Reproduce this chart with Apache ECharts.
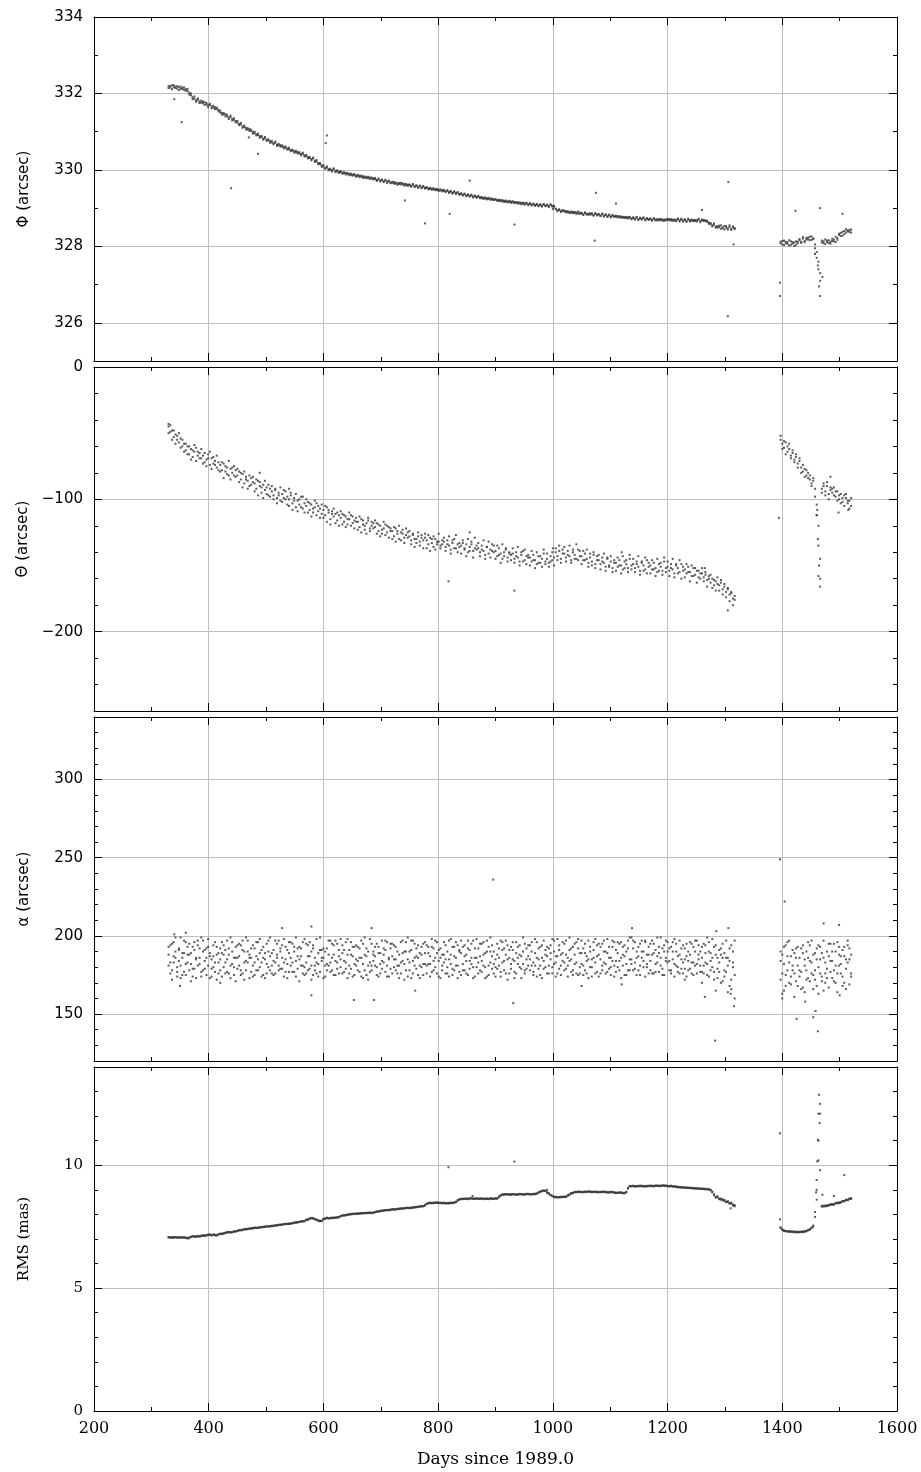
<!DOCTYPE html>
<html><head><meta charset="utf-8">
<script src="https://cdn.jsdelivr.net/npm/echarts@6/dist/echarts.min.js"></script>
<style>html,body{margin:0;padding:0;background:#fff}#c{width:921px;height:1472px}</style>
</head><body><div id="c"></div>
<script>
// Observation days (days since 1989.0)
const days = [
330,333,336,339,342,345,348,351,354,357,
360,363,366,369,372,375,378,381,384,387,
390,393,396,399,402,405,408,411,414,417,
420,423,426,429,432,435,438,441,444,447,
450,453,456,459,462,465,468,471,474,477,
480,483,486,489,492,495,498,501,504,507,
510,513,516,519,522,525,528,531,534,537,
540,543,546,549,552,555,558,561,564,567,
570,573,576,579,582,585,588,591,594,597,
600,603,606,609,612,615,618,621,624,627,
630,633,636,639,642,645,648,651,654,657,
660,663,666,669,672,675,678,681,684,687,
690,693,696,699,702,705,708,711,714,717,
720,723,726,729,732,735,738,741,744,747,
750,753,756,759,762,765,768,771,774,777,
780,783,786,789,792,795,798,801,804,807,
810,813,816,819,822,825,828,831,834,837,
840,843,846,849,852,855,858,861,864,867,
870,873,876,879,882,885,888,891,894,897,
900,903,906,909,912,915,918,921,924,927,
930,933,936,939,942,945,948,951,954,957,
960,963,966,969,972,975,978,981,984,987,
990,993,996,999,1002,1005,1008,1011,1014,1017,
1020,1023,1026,1029,1032,1035,1038,1041,1044,1047,
1050,1053,1056,1059,1062,1065,1068,1071,1074,1077,
1080,1083,1086,1089,1092,1095,1098,1101,1104,1107,
1110,1113,1116,1119,1122,1125,1128,1131,1134,1137,
1140,1143,1146,1149,1152,1155,1158,1161,1164,1167,
1170,1173,1176,1179,1182,1185,1188,1191,1194,1197,
1200,1203,1206,1209,1212,1215,1218,1221,1224,1227,
1230,1233,1236,1239,1242,1245,1248,1251,1254,1257,
1260,1263,1266,1269,1272,1275,1278,1281,1284,1287,
1290,1293,1296,1299,1302,1305,1308,1311,1314,1317,
1397,1400,1403,1406,1409,1412,1415,1418,1421,1424,
1427,1430,1433,1436,1439,1442,1445,1448,1451,1454,
1457,1460,1463,1466,1469,1472,1475,1478,1481,1484,
1487,1490,1493,1496,1499,1502,1505,1508,1511,1514,
1517,1520];

// Phi (arcsec), two measurements per day
const phi = [
332.19,332.15,332.21,332.16,332.18,332.13,332.17,332.12,332.15,332.10,
332.11,332.06,332.02,331.95,331.90,331.86,331.82,331.83,331.79,331.76,
331.74,331.77,331.71,331.69,331.70,331.66,331.63,331.64,331.59,331.57,
331.50,331.49,331.44,331.46,331.40,331.37,331.38,331.33,331.31,331.28,
331.24,331.20,331.19,331.14,331.12,331.10,331.05,331.07,331.02,330.99,
330.96,330.93,330.91,330.88,330.86,330.82,330.83,330.79,330.77,330.75,
330.72,330.70,330.71,330.66,330.64,330.65,330.61,330.60,330.58,330.56,
330.54,330.52,330.50,330.49,330.46,330.47,330.43,330.41,330.42,330.38,
330.36,330.33,330.31,330.28,330.30,330.24,330.22,330.18,330.15,330.12,
330.09,330.05,330.06,330.02,330.00,329.99,330.01,329.97,329.96,329.95,
329.94,329.93,329.91,329.92,329.89,329.90,329.87,329.88,329.86,329.85,
329.84,329.85,329.82,329.83,329.80,329.81,329.79,329.80,329.77,329.78,
329.76,329.74,329.75,329.72,329.73,329.70,329.72,329.69,329.70,329.67,
329.66,329.68,329.64,329.65,329.63,329.66,329.62,329.63,329.60,329.61,
329.60,329.58,329.61,329.57,329.58,329.55,329.57,329.54,329.56,329.53,
329.53,329.52,329.50,329.51,329.49,329.50,329.47,329.48,329.46,329.47,
329.45,329.44,329.45,329.42,329.43,329.40,329.42,329.39,329.40,329.37,
329.37,329.35,329.36,329.33,329.34,329.32,329.33,329.30,329.31,329.29,
329.30,329.28,329.26,329.27,329.25,329.26,329.24,329.25,329.22,329.23,
329.22,329.21,329.19,329.21,329.18,329.19,329.17,329.18,329.16,329.17,
329.15,329.16,329.14,329.15,329.12,329.14,329.11,329.13,329.12,329.10,
329.11,329.09,329.10,329.08,329.09,329.07,329.08,329.06,329.09,329.07,
329.07,329.05,329.08,329.06,329.04,328.97,328.94,328.95,328.92,328.93,
328.91,328.92,328.89,328.90,328.88,328.90,328.87,328.89,328.86,328.88,
328.86,328.84,328.87,328.85,328.83,328.86,328.84,328.82,328.85,328.83,
328.83,328.81,328.84,328.80,328.82,328.79,328.81,328.78,328.80,328.79,
328.78,328.79,328.76,328.78,328.75,328.77,328.74,328.76,328.75,328.73,
328.74,328.72,328.75,328.71,328.73,328.72,328.74,328.70,328.72,328.71,
328.71,328.69,328.72,328.70,328.68,328.71,328.69,328.70,328.67,328.70,
328.69,328.71,328.68,328.70,328.67,328.69,328.71,328.68,328.70,328.67,
328.69,328.66,328.70,328.68,328.67,328.69,328.66,328.68,328.70,328.66,
328.68,328.69,328.66,328.67,328.62,328.58,328.55,328.60,328.52,328.49,
328.50,328.55,328.47,328.53,328.49,328.44,328.51,328.46,328.52,328.48,
328.12,328.05,328.15,328.08,328.11,328.02,328.13,328.07,328.10,328.04,
328.12,328.16,328.09,328.20,328.14,328.22,328.18,328.25,328.17,328.21,
328.05,327.85,327.60,327.30,328.10,328.13,328.06,328.15,328.09,328.12,
328.14,328.18,328.11,328.22,328.30,328.35,328.28,328.40,328.36,328.42,
328.38,328.44];
const phi2 = [
332.14,332.20,332.11,332.22,332.14,332.19,332.09,332.18,332.11,332.16,
332.07,332.12,331.97,332.00,331.85,331.92,331.78,331.87,331.75,331.81,
331.79,331.70,331.75,331.64,331.73,331.61,331.68,331.59,331.63,331.53,
331.55,331.45,331.49,331.40,331.44,331.33,331.42,331.29,331.35,331.24,
331.28,331.17,331.23,331.10,331.16,331.06,331.09,331.02,331.05,330.95,
331.00,330.90,330.95,330.84,330.89,330.79,330.86,330.76,330.80,330.71,
330.76,330.67,330.74,330.63,330.68,330.61,330.64,330.56,330.61,330.53,
330.58,330.49,330.53,330.45,330.50,330.43,330.46,330.38,330.45,330.35,
330.39,330.30,330.34,330.25,330.32,330.21,330.26,330.15,330.18,330.08,
330.12,330.03,330.09,329.99,330.03,329.96,330.04,329.94,329.99,329.92,
329.97,329.90,329.94,329.88,329.92,329.86,329.90,329.85,329.89,329.82,
329.87,329.81,329.85,329.79,329.83,329.78,329.82,329.76,329.80,329.75,
329.79,329.71,329.77,329.70,329.75,329.68,329.74,329.66,329.72,329.65,
329.69,329.64,329.67,329.61,329.66,329.62,329.65,329.59,329.63,329.58,
329.62,329.56,329.63,329.55,329.60,329.53,329.59,329.52,329.58,329.51,
329.55,329.49,329.53,329.48,329.52,329.47,329.50,329.45,329.49,329.44,
329.48,329.42,329.47,329.40,329.45,329.38,329.44,329.37,329.42,329.35,
329.39,329.33,329.38,329.31,329.36,329.30,329.35,329.28,329.33,329.27,
329.32,329.26,329.29,329.24,329.28,329.23,329.27,329.22,329.25,329.21,
329.24,329.19,329.22,329.18,329.21,329.16,329.20,329.15,329.19,329.14,
329.18,329.13,329.16,329.12,329.15,329.10,329.14,329.09,329.14,329.08,
329.13,329.07,329.12,329.06,329.11,329.05,329.10,329.04,329.11,329.05,
329.09,329.03,329.10,329.04,329.06,328.99,328.92,328.97,328.90,328.95,
328.93,328.89,328.92,328.87,328.91,328.87,328.90,328.85,328.91,328.85,
328.88,328.82,328.89,328.83,328.86,328.83,328.87,328.80,328.87,328.81,
328.85,328.79,328.86,328.78,328.84,328.77,328.83,328.76,328.82,328.77,
328.80,328.76,328.79,328.75,328.77,328.74,328.77,328.73,328.77,328.71,
328.76,328.70,328.77,328.69,328.75,328.70,328.76,328.68,328.74,328.69,
328.73,328.67,328.74,328.68,328.71,328.68,328.72,328.67,328.70,328.68,
328.72,328.68,328.71,328.67,328.70,328.66,328.73,328.65,328.72,328.65,
328.71,328.64,328.72,328.65,328.70,328.66,328.69,328.65,328.72,328.63,
328.70,328.66,328.68,328.64,328.59,328.61,328.52,328.57,328.49,328.53,
328.54,328.46,328.50,328.44,328.53,328.47,328.55,328.43,328.50,328.45,
328.08,328.14,328.03,328.12,328.06,328.16,328.04,328.11,328.01,328.13,
328.08,328.19,328.12,328.24,328.11,328.18,328.23,328.16,328.26,328.19,
327.95,327.70,327.40,327.10,328.15,328.08,328.18,328.11,328.16,328.07,
328.20,328.13,328.25,328.17,328.33,328.27,328.38,328.32,328.45,328.39,
328.43,328.36];

// Theta (arcsec), two measurements per day
const theta = [
-45,-49,-48,-53,-51,-55,-57,-54,-60,-58,
-63,-60,-66,-62,-68,-64,-61,-67,-65,-69,
-67,-72,-70,-66,-74,-69,-73,-71,-76,-72,
-74,-78,-73,-79,-76,-82,-77,-80,-75,-83,
-82,-79,-85,-81,-88,-83,-86,-90,-84,-87,
-88,-92,-86,-90,-95,-89,-93,-91,-97,-92,
-94,-97,-92,-99,-95,-101,-96,-93,-100,-98,
-100,-97,-103,-99,-106,-101,-104,-98,-107,-103,
-105,-102,-108,-104,-110,-106,-103,-109,-107,-111,
-108,-112,-106,-110,-115,-109,-113,-111,-116,-112,
-114,-111,-117,-113,-119,-115,-112,-118,-116,-114,
-117,-121,-115,-119,-123,-118,-116,-122,-120,-118,
-121,-118,-124,-120,-126,-122,-119,-125,-121,-124,
-124,-128,-122,-126,-130,-125,-123,-129,-127,-125,
-128,-131,-126,-130,-133,-128,-132,-127,-131,-129,
-131,-134,-129,-133,-136,-130,-134,-132,-135,-131,
-132,-136,-131,-135,-138,-133,-130,-137,-134,-136,
-135,-133,-138,-134,-140,-136,-132,-139,-137,-135,
-137,-140,-135,-139,-142,-136,-141,-138,-134,-140,
-139,-143,-137,-141,-145,-140,-138,-144,-141,-142,
-141,-145,-140,-144,-147,-142,-139,-146,-143,-144,
-144,-147,-142,-146,-149,-143,-148,-145,-141,-147,
-145,-148,-143,-146,-144,-140,-143,-139,-145,-141,
-141,-144,-139,-143,-146,-140,-142,-145,-138,-143,
-143,-146,-141,-145,-148,-144,-147,-142,-149,-146,
-146,-149,-144,-148,-151,-145,-150,-147,-152,-148,
-148,-151,-146,-150,-153,-147,-149,-152,-145,-150,
-149,-152,-147,-151,-154,-148,-150,-153,-146,-151,
-150,-153,-148,-152,-155,-149,-151,-154,-147,-152,
-151,-154,-149,-153,-156,-150,-152,-155,-149,-154,
-153,-156,-151,-155,-158,-152,-157,-154,-159,-156,
-156,-159,-157,-161,-158,-163,-160,-165,-162,-164,
-165,-163,-168,-166,-170,-168,-172,-171,-175,-173,
-55,-58,-61,-57,-64,-62,-67,-65,-70,-68,
-73,-71,-76,-79,-77,-82,-80,-85,-88,-86,
-92,-104,-120,-145,-92,-88,-94,-90,-96,-93,
-95,-91,-98,-94,-100,-96,-102,-97,-99,-103,
-101,-105];
const theta2 = [
-50,-44,-55,-48,-58,-52,-50,-61,-55,-64,
-58,-66,-60,-70,-63,-59,-71,-64,-69,-62,
-73,-65,-75,-69,-64,-77,-68,-74,-67,-78,
-79,-72,-84,-75,-81,-71,-85,-76,-82,-78,
-77,-87,-80,-91,-79,-85,-92,-82,-89,-83,
-94,-85,-97,-87,-91,-99,-86,-96,-89,-98,
-90,-100,-93,-103,-97,-91,-102,-99,-94,-104,
-105,-95,-108,-101,-96,-109,-100,-106,-98,-110,
-100,-110,-103,-113,-107,-101,-112,-105,-114,-104,
-114,-105,-117,-108,-119,-111,-107,-118,-110,-120,
-109,-119,-112,-121,-115,-110,-120,-113,-122,-117,
-123,-113,-125,-116,-120,-126,-114,-124,-117,-122,
-116,-126,-119,-128,-123,-117,-127,-120,-129,-122,
-130,-121,-132,-124,-120,-131,-126,-133,-122,-129,
-124,-134,-127,-136,-130,-125,-135,-129,-137,-126,
-137,-127,-139,-130,-128,-138,-132,-126,-137,-134,
-129,-139,-134,-128,-141,-131,-137,-127,-140,-133,
-141,-131,-137,-143,-130,-139,-134,-144,-129,-138,
-133,-143,-138,-131,-145,-136,-132,-144,-139,-135,
-145,-135,-142,-148,-134,-143,-137,-147,-140,-146,
-137,-148,-143,-136,-150,-140,-147,-138,-149,-142,
-150,-139,-146,-152,-140,-148,-143,-151,-138,-149,
-141,-151,-147,-140,-150,-137,-146,-135,-148,-138,
-136,-147,-142,-135,-148,-138,-145,-134,-146,-139,
-149,-139,-146,-138,-151,-141,-150,-140,-152,-143,
-142,-153,-147,-141,-154,-144,-151,-143,-155,-146,
-154,-144,-150,-156,-143,-152,-146,-155,-142,-153,
-145,-155,-149,-143,-157,-147,-154,-144,-156,-148,
-156,-146,-153,-158,-145,-154,-148,-157,-144,-155,
-147,-158,-152,-145,-159,-149,-156,-146,-160,-151,
-159,-149,-155,-162,-150,-158,-152,-163,-154,-160,
-152,-162,-155,-166,-160,-157,-167,-161,-169,-159,
-169,-161,-172,-164,-174,-167,-177,-170,-180,-176,
-52,-62,-56,-66,-60,-58,-69,-63,-72,-66,
-76,-69,-80,-74,-83,-78,-84,-82,-90,-84,
-98,-112,-135,-160,-95,-90,-97,-87,-100,-91,
-92,-97,-94,-101,-97,-103,-99,-105,-96,-101,
-107,-99];

// alpha (arcsec), three measurements per day
const alpha = [
188,176,195,183,199,180,191,173,186,197,
182,193,178,189,174,196,185,181,192,177,
190,184,175,198,187,179,194,183,172,189,
185,196,180,191,177,188,199,182,175,193,
179,187,194,176,190,184,197,173,186,181,
192,178,185,198,183,175,189,195,180,187,
176,191,183,188,197,179,186,174,193,182,
189,181,195,177,184,192,171,187,196,180,
183,194,179,190,175,186,198,182,177,191,
186,174,192,181,197,178,188,184,195,176,
180,189,184,196,173,191,179,187,182,194,
193,177,186,182,199,175,190,183,178,188,
181,195,174,189,184,192,177,196,185,179,
187,180,193,176,188,183,197,172,190,185,
178,191,184,195,179,186,181,193,175,189,
194,182,187,177,192,180,196,184,173,188,
183,176,190,185,198,179,187,181,194,177,
189,193,178,184,175,191,182,197,186,180,
176,187,195,181,189,174,193,183,179,190,
185,179,192,177,196,184,188,172,191,182,
191,184,176,193,180,187,199,178,185,194,
178,196,183,189,174,192,181,186,197,180,
187,181,194,176,190,183,198,179,188,184,
195,179,186,191,177,193,182,196,175,189,
182,192,178,187,197,180,185,191,176,194,
188,176,195,183,190,198,179,186,193,181,
177,189,184,196,181,187,175,192,185,199,
192,183,190,178,195,186,180,197,182,188,
184,197,176,191,183,189,199,179,194,186,
190,178,193,185,198,181,187,176,192,183,
179,195,184,188,176,193,181,197,185,190,
186,181,194,175,190,184,198,172,188,179,
183,192,171,189,177,186,168,194,180,175,
172,188,165,194,178,183,169,191,176,186,
181,174,192,167,185,178,196,171,183,175,
189,168,180,193,174,186,170,179,195,177,
184,171,190,176,193,182,168,187,179,194,
185,176];
const alpha2 = [
181,194,172,187,190,177,184,199,175,189,
196,183,188,171,193,179,186,197,182,174,
178,191,186,193,173,185,180,196,188,176,
192,174,188,183,197,176,181,190,186,171,
186,195,178,191,172,199,183,188,177,194,
175,187,196,180,191,186,173,182,197,178,
189,184,176,195,181,192,179,198,185,173,
177,196,183,190,174,187,193,181,176,198,
195,178,187,172,192,181,176,189,199,184,
173,190,182,197,177,186,194,175,183,191,
198,176,191,179,188,181,196,174,193,185,
184,192,174,195,178,187,172,198,181,190,
193,180,189,176,197,183,191,174,186,195,
176,194,185,181,173,196,184,190,178,199,
190,173,197,186,192,175,189,180,195,182,
181,189,174,193,184,197,176,191,186,178,
196,185,180,174,188,193,178,196,181,190,
175,182,194,188,197,179,186,173,192,198,
192,178,184,196,173,190,181,199,187,176,
180,195,186,174,191,178,197,185,176,193,
185,177,196,182,188,173,190,195,179,187,
194,181,175,198,186,179,193,173,184,191,
176,192,185,180,197,174,187,194,181,196,
183,188,174,199,185,178,195,176,192,180,
197,175,189,184,173,193,180,186,198,177,
174,193,181,197,176,189,186,175,184,196,
191,180,195,173,188,194,182,178,199,185,
178,196,175,187,181,197,190,174,188,193,
195,176,189,182,199,177,186,192,175,184,
183,192,178,196,174,190,180,197,185,176,
192,174,190,179,195,183,197,176,188,181,
177,195,183,199,174,189,180,193,165,186,
191,170,186,178,197,164,184,172,190,160,
190,163,182,175,196,170,187,178,161,192,
168,186,177,194,164,190,173,184,197,166,
178,192,163,185,171,197,176,190,167,184,
173,195,181,164,188,176,191,170,185,197,
169,188];
const alpha3 = [
193,183,178,196,186,174,192,181,189,177,
175,188,195,182,179,191,173,194,186,199,
197,179,192,181,189,174,187,177,193,183,
178,189,194,176,185,192,173,196,180,186,
194,181,175,197,183,178,190,186,192,174,
183,196,178,189,174,193,185,176,190,199,
181,175,197,186,178,190,194,183,177,191,
196,186,177,193,199,179,185,192,181,175,
176,187,196,181,194,178,183,174,191,186,
192,181,178,188,183,195,175,197,179,187,
185,194,177,183,198,176,188,193,175,181,
178,186,197,173,188,192,181,177,195,184,
187,175,193,182,179,188,197,181,174,192,
195,185,178,190,181,176,189,182,196,174,
183,197,176,181,187,194,173,188,182,196,
176,193,182,198,178,186,189,174,192,181,
188,194,176,197,182,175,193,186,173,191,
197,178,187,176,192,184,195,180,174,186,
183,195,177,188,180,197,175,190,194,182,
174,188,181,197,183,192,176,194,186,179,
196,173,189,186,194,179,182,176,192,181,
185,190,177,181,196,185,175,194,179,188,
193,176,189,198,182,187,176,191,175,189,
178,197,181,184,192,175,188,183,198,176,
189,181,195,176,185,190,174,196,183,187,
195,185,178,190,182,177,193,180,197,174,
184,196,178,186,193,175,190,197,178,182,
197,179,186,193,175,190,184,196,180,176,
178,188,195,177,187,193,181,175,190,197,
196,184,176,190,182,195,177,188,179,194,
185,187,178,196,183,175,190,182,194,177,
193,176,189,182,196,178,186,177,194,173,
177,188,195,174,186,181,192,166,183,197,
184,176,193,168,187,197,174,181,189,171,
193,178,166,189,181,172,186,194,176,188,
172,185,194,176,189,165,183,173,187,195,
190,178,170,196,181,187,174,193,166,183,
192,174];

// RMS (mas), two measurements per day
const rms = [
7.06,7.07,7.06,7.08,7.07,7.06,7.07,7.05,7.07,7.06,
7.04,7.02,7.06,7.09,7.10,7.09,7.11,7.10,7.12,7.11,
7.13,7.15,7.14,7.18,7.17,7.16,7.19,7.15,7.14,7.18,
7.20,7.22,7.21,7.26,7.28,7.27,7.26,7.29,7.31,7.30,
7.34,7.36,7.35,7.38,7.40,7.39,7.41,7.43,7.42,7.44,
7.45,7.44,7.47,7.46,7.49,7.48,7.50,7.51,7.50,7.53,
7.52,7.55,7.54,7.56,7.58,7.57,7.59,7.61,7.60,7.62,
7.63,7.62,7.65,7.66,7.68,7.67,7.70,7.72,7.71,7.74,
7.77,7.80,7.84,7.86,7.83,7.80,7.77,7.74,7.72,7.75,
7.80,7.84,7.85,7.83,7.86,7.87,7.85,7.88,7.87,7.90,
7.94,7.96,7.95,7.98,8.00,7.99,8.02,8.01,8.03,8.02,
8.04,8.03,8.05,8.04,8.06,8.05,8.07,8.06,8.05,8.08,
8.10,8.12,8.11,8.15,8.14,8.17,8.16,8.18,8.19,8.17,
8.20,8.19,8.22,8.21,8.24,8.23,8.25,8.24,8.27,8.26,
8.25,8.28,8.27,8.30,8.29,8.31,8.33,8.32,8.34,8.36,
8.42,8.46,8.47,8.45,8.48,8.47,8.49,8.46,8.48,8.45,
8.46,8.44,8.47,8.45,8.46,8.48,8.47,8.52,8.56,8.60,
8.62,8.64,8.63,8.65,8.62,8.64,8.66,8.63,8.65,8.64,
8.63,8.65,8.64,8.62,8.65,8.63,8.64,8.66,8.63,8.65,
8.64,8.66,8.70,8.76,8.80,8.82,8.81,8.83,8.80,8.82,
8.81,8.83,8.80,8.82,8.84,8.81,8.83,8.80,8.82,8.84,
8.81,8.83,8.82,8.84,8.86,8.88,8.92,8.96,8.98,8.95,
8.90,8.86,8.80,8.74,8.72,8.70,8.71,8.69,8.72,8.70,
8.71,8.73,8.76,8.80,8.85,8.88,8.90,8.92,8.91,8.93,
8.92,8.90,8.93,8.91,8.94,8.92,8.90,8.93,8.91,8.92,
8.90,8.92,8.91,8.93,8.90,8.89,8.91,8.92,8.90,8.88,
8.89,8.87,8.90,8.88,8.86,8.88,8.90,9.05,9.14,9.16,
9.15,9.13,9.16,9.14,9.17,9.15,9.13,9.16,9.14,9.17,
9.15,9.17,9.14,9.16,9.18,9.15,9.17,9.19,9.16,9.18,
9.16,9.14,9.17,9.13,9.15,9.12,9.10,9.12,9.09,9.11,
9.08,9.10,9.07,9.09,9.06,9.08,9.05,9.07,9.04,9.06,
9.03,9.05,9.02,9.04,9.01,8.98,8.90,8.78,8.72,8.70,
8.65,8.60,8.62,8.55,8.52,8.50,8.46,8.44,8.40,8.33,
7.48,7.40,7.35,7.33,7.30,7.32,7.29,7.31,7.28,7.30,
7.27,7.30,7.28,7.31,7.29,7.33,7.35,7.40,7.44,7.50,
7.90,8.60,10.20,12.10,8.35,8.32,8.36,8.34,8.38,8.40,
8.39,8.42,8.45,8.48,8.46,8.50,8.53,8.55,8.58,8.60,
8.62,8.66];
const rms2 = [
7.08,7.05,7.07,7.04,7.08,7.06,7.05,7.08,7.05,7.07,
7.06,7.05,7.03,7.08,7.12,7.11,7.09,7.13,7.10,7.14,
7.15,7.12,7.16,7.16,7.19,7.14,7.17,7.17,7.16,7.20,
7.22,7.20,7.24,7.24,7.26,7.29,7.28,7.27,7.30,7.32,
7.32,7.35,7.37,7.36,7.39,7.41,7.40,7.42,7.44,7.43,
7.47,7.46,7.45,7.48,7.47,7.50,7.49,7.52,7.52,7.51,
7.54,7.53,7.56,7.55,7.57,7.59,7.58,7.60,7.62,7.61,
7.61,7.64,7.63,7.67,7.66,7.69,7.69,7.71,7.73,7.72,
7.79,7.78,7.82,7.84,7.85,7.82,7.79,7.76,7.74,7.73,
7.82,7.82,7.87,7.85,7.84,7.85,7.87,7.86,7.89,7.88,
7.92,7.95,7.97,7.96,7.98,8.01,8.00,8.03,8.02,8.04,
8.02,8.05,8.04,8.06,8.05,8.07,8.05,8.08,8.07,8.06,
8.09,8.11,8.13,8.13,8.16,8.15,8.18,8.17,8.17,8.20,
8.22,8.21,8.20,8.23,8.22,8.25,8.23,8.26,8.25,8.28,
8.27,8.26,8.29,8.28,8.31,8.30,8.32,8.34,8.33,8.38,
8.44,8.45,8.48,8.47,8.46,8.49,8.47,8.48,8.46,8.47,
8.48,8.46,8.45,8.47,8.48,8.46,8.49,8.50,8.58,8.62,
8.64,8.62,8.65,8.63,8.64,8.66,8.64,8.65,8.63,8.66,
8.65,8.63,8.66,8.64,8.63,8.65,8.62,8.64,8.65,8.63,
8.66,8.64,8.73,8.78,8.82,8.80,8.83,8.81,8.82,8.80,
8.83,8.81,8.82,8.80,8.82,8.83,8.81,8.82,8.84,8.82,
8.83,8.81,8.84,8.82,8.84,8.90,8.94,8.94,8.96,8.97,
8.88,8.84,8.78,8.76,8.70,8.72,8.69,8.71,8.70,8.72,
8.73,8.71,8.78,8.82,8.87,8.86,8.92,8.90,8.93,8.91,
8.90,8.92,8.91,8.93,8.92,8.94,8.92,8.91,8.93,8.90,
8.92,8.90,8.93,8.91,8.92,8.91,8.89,8.90,8.92,8.90,
8.87,8.89,8.88,8.90,8.88,8.86,8.92,9.08,9.16,9.14,
9.17,9.15,9.14,9.16,9.15,9.17,9.15,9.14,9.16,9.15,
9.17,9.15,9.16,9.18,9.16,9.17,9.15,9.17,9.18,9.16,
9.14,9.16,9.15,9.15,9.13,9.14,9.12,9.10,9.11,9.09,
9.10,9.08,9.09,9.07,9.08,9.06,9.07,9.05,9.06,9.04,
9.05,9.03,9.04,9.02,9.03,9.00,8.93,8.82,8.68,8.74,
8.62,8.64,8.57,8.59,8.50,8.54,8.44,8.48,8.36,8.38,
7.44,7.36,7.33,7.31,7.32,7.29,7.31,7.28,7.30,7.27,
7.29,7.27,7.30,7.28,7.32,7.31,7.37,7.38,7.47,7.55,
8.10,9.00,11.00,12.50,8.32,8.35,8.33,8.37,8.36,8.41,
8.42,8.40,8.47,8.45,8.49,8.48,8.55,8.53,8.60,8.58,
8.65,8.63];

// Isolated points off the main bands: [day, value]
const phiOut = [[353,331.25],[340,331.85],[439,329.52],[486,330.42],[470,330.85],[606,330.90],[604,330.70],[742,329.20],[777,328.60],[820,328.85],[855,329.72],[933,328.57],[1000,328.98],[1073,328.15],[1075,329.40],[1110,329.12],[1260,328.95],[1306,329.68],[1305,326.17],[1315,328.05],[1396,326.70],[1396,327.05],[1423,328.93],[1466,329.00],[1505,328.85],[1464,326.95],[1462,327.50],[1466,326.70],[1470,327.20],[1457,327.80]];
const thetaOut = [[330,-43],[489,-80],[540,-92],[818,-162],[933,-169],[855,-125],[1305,-184],[1394,-114],[1462,-130],[1464,-150],[1466,-166],[1463,-158],[1461,-108],[1460,-112],[1498,-110],[1515,-108],[1484,-83],[1000,-137],[1120,-140],[1265,-152]];
const alphaOut = [[528,205],[579,206],[684,205],[896,236],[1138,205],[1285,203],[1306,205],[1396,249],[1404,222],[1472,208],[1499,207],[579,162],[653,159],[688,159],[931,157],[1265,161],[1316,155],[1283,133],[1425,147],[1454,148],[1462,139],[1310,163],[340,201],[360,202],[420,170],[350,168],[760,165],[1400,160],[1440,158],[1458,152],[1500,162],[1050,168],[1120,169],[1230,172],[1260,170]];
const rmsOut = [[818,9.92],[933,10.15],[1396,11.3],[1396,7.8],[1464,12.87],[1463,12.1],[1465,11.72],[1462,11.04],[1461,10.16],[1460,9.4],[1459,8.9],[1466,9.8],[1508,9.6],[1470,8.8],[1490,8.75],[1310,8.25],[860,8.75],[990,9.0]];

// Tick label values
const xTicks = [200,400,600,800,1000,1200,1400,1600];
const phiTicks = [326,328,330,332,334];
const thetaTicks = [-200,-100,0];
const alphaTicks = [150,200,250,300];
const rmsTicks = [0,5,10];

const panels = [
  {label:'\u03A6 (arcsec)', ys:[phi, phi2], out:phiOut, min:325, max:334, ticks:phiTicks, minor:1, font:'DejaVu Sans'},
  {label:'\u0398 (arcsec)', ys:[theta, theta2], out:thetaOut, min:-260, max:0, ticks:thetaTicks, minor:20, font:'DejaVu Sans'},
  {label:'\u03B1 (arcsec)', ys:[alpha, alpha2, alpha3], out:alphaOut, min:120, max:340, ticks:alphaTicks, minor:10, font:'DejaVu Sans'},
  {label:'RMS (mas)', ys:[rms, rms2], out:rmsOut, min:0, max:14, ticks:rmsTicks, minor:1, font:'DejaVu Serif'}
];

const gridTop = [17, 367, 717, 1067];
const gridH = 344;
const black = {color:'#000', width:1};
const gridCol = '#bfbfbf';
const fmt = v => v < 0 ? '\u2212' + (-v) : String(v);

const grids = [], xAxes = [], yAxes = [], series = [];
panels.forEach((p, i) => {
  grids.push({left:94, right:24, top:gridTop[i], height:gridH, show:false});
  const xc = {gridIndex:i, type:'value', min:xTicks[0], max:xTicks[xTicks.length-1], interval:200,
    axisLine:{show:true, onZero:false, lineStyle:black},
    axisTick:{show:true, inside:true, length:8, lineStyle:black},
    minorTick:{show:true, splitNumber:2, length:4, lineStyle:black}};
  xAxes.push(Object.assign({}, xc, {position:'bottom',
    splitLine:{show:true, lineStyle:{color:gridCol, width:1}},
    axisLabel:{show:i===3, margin:10, formatter:v => String(v), fontFamily:'DejaVu Serif', fontSize:16, color:'#000'},
    name: i===3 ? 'Days since 1989.0' : '', nameLocation:'middle', nameGap:40,
    nameTextStyle:{fontFamily:'DejaVu Serif', fontSize:17, color:'#000'}}));
  xAxes.push(Object.assign({}, xc, {position:'top', splitLine:{show:false}, axisLabel:{show:false}}));
  const yb = {gridIndex:i, type:'value', min:p.min, max:p.max};
  yAxes.push(Object.assign({}, yb, {position:'left',
    axisLine:{show:true, onZero:false, lineStyle:black},
    axisTick:{show:true, inside:true, length:8, customValues:p.ticks, lineStyle:black},
    axisLabel:{show:true, customValues:p.ticks, formatter:fmt, margin:11, fontFamily:p.font, fontSize:15, color:'#000'},
    splitLine:{show:true, lineStyle:{color:gridCol, width:1}},
    name:p.label, nameLocation:'middle', nameGap:62,
    nameTextStyle:{fontFamily:p.font, fontSize:15, color:'#000'}}));
  yAxes.push(Object.assign({}, yb, {position:'left', interval:p.minor,
    axisLine:{show:false, onZero:false}, axisTick:{show:true, inside:true, length:4, lineStyle:black},
    axisLabel:{show:false}, splitLine:{show:false}}));
  yAxes.push(Object.assign({}, yb, {position:'right',
    axisLine:{show:true, onZero:false, lineStyle:black},
    axisTick:{show:true, inside:true, length:8, customValues:p.ticks, lineStyle:black},
    axisLabel:{show:false}, splitLine:{show:false}}));
  yAxes.push(Object.assign({}, yb, {position:'right', interval:p.minor,
    axisLine:{show:false, onZero:false}, axisTick:{show:true, inside:true, length:4, lineStyle:black},
    axisLabel:{show:false}, splitLine:{show:false}}));
  const pts = [];
  p.ys.forEach(arr => days.forEach((d, k) => pts.push([d, arr[k]])));
  series.push({type:'scatter', xAxisIndex:2*i, yAxisIndex:4*i, symbol:'rect', symbolSize:2,
    itemStyle:{color:'#333'}, silent:true, animation:false,
    data: pts.concat(p.out)});
});

const chart = echarts.init(document.getElementById('c'), null, {renderer:'canvas'});
chart.setOption({animation:false, backgroundColor:'#fff', grid:grids, xAxis:xAxes, yAxis:yAxes, series:series});
</script></body></html>
